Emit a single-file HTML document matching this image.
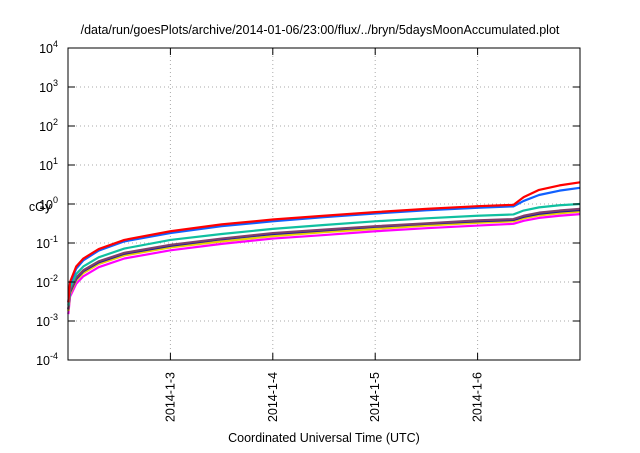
<!DOCTYPE html>
<html><head><meta charset="utf-8"><style>
body{margin:0;background:#fff;}
svg text{font-family:"Liberation Sans",sans-serif;fill:#000;}
</style></head><body>
<svg width="640" height="448" viewBox="0 0 640 448" id="svg">
<text x="320" y="34" font-size="12.5" text-anchor="middle">/data/run/goesPlots/archive/2014-01-06/23:00/flux/../bryn/5daysMoonAccumulated.plot</text>
<text x="324" y="442" font-size="12.5" text-anchor="middle">Coordinated Universal Time (UTC)</text>
<text x="40" y="211" font-size="12.5" text-anchor="middle">cGy</text>
<g id="grid"></g><g id="series"></g><g id="axes"></g>
</svg>
<script>
const xTicks=[1,2,3,4];
const xTickLabels=["2014-1-3","2014-1-4","2014-1-5","2014-1-6"];
const yExps=[-4,-3,-2,-1,0,1,2,3,4];
const times=[0.003,0.02,0.08,0.15,0.3,0.55,1,1.5,2,2.5,3,3.5,4,4.35,4.45,4.6,4.8,5];
const red=[0.003,0.01,0.025,0.04,0.07,0.12,0.2,0.3,0.4,0.5,0.62,0.75,0.88,0.95,1.5,2.3,3.0,3.6];
const blue=[0.003,0.009,0.022,0.036,0.064,0.11,0.18,0.27,0.36,0.46,0.57,0.69,0.8,0.87,1.2,1.7,2.2,2.6];
const teal=[0.0025,0.007,0.016,0.025,0.043,0.072,0.12,0.17,0.23,0.29,0.36,0.43,0.5,0.54,0.68,0.82,0.93,1.0];
const purple=[0.002,0.006,0.013,0.02,0.034,0.056,0.09,0.13,0.18,0.22,0.27,0.32,0.38,0.41,0.5,0.6,0.68,0.75];
const darkblue=[0.002,0.0055,0.012,0.019,0.032,0.053,0.085,0.125,0.17,0.21,0.26,0.31,0.36,0.39,0.47,0.56,0.64,0.7];
const yellow=[0.0018,0.005,0.011,0.017,0.029,0.048,0.077,0.11,0.15,0.19,0.23,0.28,0.33,0.36,0.43,0.51,0.58,0.64];
const magenta=[0.0015,0.0042,0.009,0.014,0.024,0.04,0.065,0.095,0.13,0.16,0.2,0.24,0.28,0.31,0.37,0.44,0.5,0.55];

const L=68,R=580,T=48,B=360;
const X=t=>L+(R-L)*t/5;
const Y=v=>B-(Math.log10(v)+4)*(B-T)/8;
const NS="http://www.w3.org/2000/svg";
function mk(tag,attrs,parent){const e=document.createElementNS(NS,tag);for(const k in attrs)e.setAttribute(k,attrs[k]);document.getElementById(parent).appendChild(e);return e;}
xTicks.forEach((d,i)=>{
  const x=X(d);
  const g=mk('line',{x1:x,x2:x,y1:T,y2:B,stroke:'#aaa','stroke-dasharray':'1,3'},'grid');
  
  
  const tk=mk('line',{x1:x,x2:x,y1:B,y2:B-7,stroke:'#000'},'axes');
  
  
  const tk2=mk('line',{x1:x,x2:x,y1:T,y2:T+7,stroke:'#000'},'axes');
  
  
  const t=mk('text',{x:x+4,y:372,'font-size':12.5,'text-anchor':'end',transform:`rotate(-90 ${x+4} 372)`},'axes');
  t.textContent=xTickLabels[i];
  
  
});
yExps.forEach(e=>{
  const y=Y(Math.pow(10,e));
  if(e>-4&&e<4){const g=mk('line',{x1:L,x2:R,y1:y,y2:y,stroke:'#aaa','stroke-dasharray':'1,3'},'grid');
  
  }
  const tk=mk('line',{x1:L,x2:L+7,y1:y,y2:y,stroke:'#000'},'axes');
  
  
  const tk2=mk('line',{x1:R,x2:R-7,y1:y,y2:y,stroke:'#000'},'axes');
  
  
  const t=mk('text',{x:58,y:y+5,'font-size':12.5,'text-anchor':'end'},'axes');
  t.innerHTML='10<tspan dy="-6" font-size="9">'+e+'</tspan>';
  
  
});
const fr=mk('rect',{x:L,y:T,width:R-L,height:B-T,fill:'none',stroke:'#000','stroke-width':1},'axes');


const series=[[magenta,'#ff00ff','magenta'],[yellow,'#e8d000','yellow'],[darkblue,'#1a1aa0','darkblue'],[purple,'#80406a','purple'],[teal,'#10c0a0','teal'],[blue,'#1060ff','blue'],[red,'#ff0000','red']];
series.forEach(([vals,c,n])=>{
  const p=mk('polyline',{points:vals.map((v,i)=>X(times[i])+','+Y(v)).join(' '),fill:'none',stroke:c,'stroke-width':2.2,'stroke-linejoin':'round'},'series');
  
  
});
</script>
</body></html>
